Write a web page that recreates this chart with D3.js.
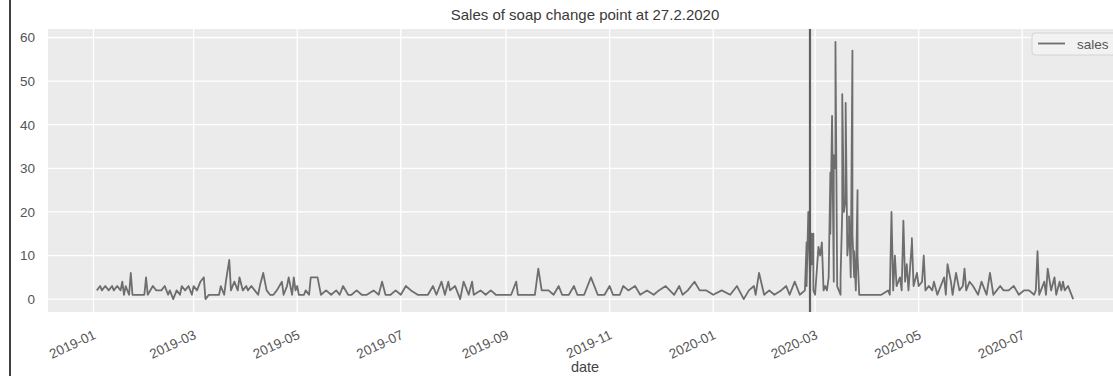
<!DOCTYPE html>
<html>
<head>
<meta charset="utf-8">
<script src="https://cdn.jsdelivr.net/npm/d3@7"></script>
<style>
  html, body { margin: 0; padding: 0; background: #fff; overflow: hidden; }
  svg { display: block; font-family: "Liberation Sans", Arial, sans-serif; }
</style>
</head>
<body>
<svg id="chart" width="1113" height="376"></svg>
<script>
// Daily soap sales records (several records can share a date)
const dates = [
  "2019-01-03","2019-01-05","2019-01-06","2019-01-08","2019-01-10","2019-01-12","2019-01-13","2019-01-15",
  "2019-01-17","2019-01-18","2019-01-19","2019-01-20","2019-01-22","2019-01-23","2019-01-24","2019-01-31",
  "2019-02-01","2019-02-02","2019-02-05","2019-02-07","2019-02-08","2019-02-10","2019-02-12","2019-02-14",
  "2019-02-15","2019-02-17","2019-02-19","2019-02-21","2019-02-22","2019-02-24","2019-02-26","2019-02-28",
  "2019-03-01","2019-03-03","2019-03-05","2019-03-07","2019-03-08","2019-03-10","2019-03-13","2019-03-16",
  "2019-03-17","2019-03-19","2019-03-20","2019-03-22","2019-03-23","2019-03-25","2019-03-27","2019-03-28",
  "2019-03-30","2019-04-01","2019-04-02","2019-04-04","2019-04-06","2019-04-08","2019-04-09","2019-04-11",
  "2019-04-13","2019-04-15","2019-04-17","2019-04-19","2019-04-22","2019-04-23","2019-04-25","2019-04-26",
  "2019-04-28","2019-04-29","2019-04-30","2019-05-01","2019-05-02","2019-05-05","2019-05-06","2019-05-08",
  "2019-05-09","2019-05-11","2019-05-13","2019-05-14","2019-05-15","2019-05-18","2019-05-21","2019-05-24",
  "2019-05-26","2019-05-28","2019-05-31","2019-06-02","2019-06-05","2019-06-08","2019-06-11","2019-06-15",
  "2019-06-18","2019-06-20","2019-06-22","2019-06-25","2019-06-28","2019-07-01","2019-07-04","2019-07-07",
  "2019-07-11","2019-07-17","2019-07-20","2019-07-22","2019-07-25","2019-07-27","2019-07-29","2019-07-30",
  "2019-08-02","2019-08-05","2019-08-07","2019-08-10","2019-08-12","2019-08-13","2019-08-17","2019-08-20",
  "2019-08-23","2019-08-26","2019-08-29","2019-09-04","2019-09-07","2019-09-08","2019-09-18","2019-09-20",
  "2019-09-22","2019-09-26","2019-09-29","2019-10-02","2019-10-04","2019-10-08","2019-10-11","2019-10-13",
  "2019-10-17","2019-10-21","2019-10-25","2019-10-29","2019-11-01","2019-11-03","2019-11-07","2019-11-09",
  "2019-11-12","2019-11-16","2019-11-19","2019-11-23","2019-11-27","2019-11-30","2019-12-04","2019-12-09",
  "2019-12-12","2019-12-14","2019-12-17","2019-12-21","2019-12-24","2019-12-28","2020-01-01","2020-01-06",
  "2020-01-11","2020-01-15","2020-01-19","2020-01-22","2020-01-25","2020-01-26","2020-01-28","2020-01-31",
  "2020-02-03","2020-02-06","2020-02-10","2020-02-13","2020-02-15","2020-02-18","2020-02-21","2020-02-24",
  "2020-02-25","2020-02-25","2020-02-26","2020-02-27","2020-02-28","2020-02-28","2020-02-29","2020-02-29",
  "2020-03-01","2020-03-03","2020-03-04","2020-03-05","2020-03-06","2020-03-07","2020-03-08","2020-03-09",
  "2020-03-10","2020-03-10","2020-03-11","2020-03-12","2020-03-12","2020-03-13","2020-03-13","2020-03-14",
  "2020-03-14","2020-03-16","2020-03-16","2020-03-17","2020-03-17","2020-03-18","2020-03-19","2020-03-19",
  "2020-03-20","2020-03-21","2020-03-21","2020-03-22","2020-03-23","2020-03-23","2020-03-24","2020-03-24",
  "2020-03-25","2020-03-26","2020-03-26","2020-03-27","2020-04-09","2020-04-13","2020-04-14","2020-04-15",
  "2020-04-16","2020-04-17","2020-04-18","2020-04-20","2020-04-21","2020-04-22","2020-04-23","2020-04-24",
  "2020-04-25","2020-04-27","2020-04-27","2020-04-28","2020-04-30","2020-05-01","2020-05-03","2020-05-04",
  "2020-05-05","2020-05-07","2020-05-09","2020-05-10","2020-05-12","2020-05-13","2020-05-16","2020-05-17",
  "2020-05-18","2020-05-20","2020-05-21","2020-05-23","2020-05-25","2020-05-27","2020-05-28","2020-05-29",
  "2020-05-31","2020-06-02","2020-06-05","2020-06-07","2020-06-09","2020-06-10","2020-06-12","2020-06-14",
  "2020-06-16","2020-06-18","2020-06-20","2020-06-23","2020-06-26","2020-06-29","2020-07-02","2020-07-05",
  "2020-07-08","2020-07-09","2020-07-10","2020-07-11","2020-07-12","2020-07-14","2020-07-15","2020-07-16",
  "2020-07-18","2020-07-20","2020-07-21","2020-07-23","2020-07-24","2020-07-25","2020-07-26","2020-07-28",
  "2020-07-31"
];

const sales = [
  2,3,2,3,2,3,2,3,
  2,4,1,3,1,6,1,1,
  5,1,3,2,2,2,3,1,
  2,0,2,1,3,2,3,1,
  3,2,4,5,0,1,1,1,
  3,1,4,9,2,4,2,5,
  2,3,2,3,2,1,3,6,
  2,1,1,2,4,1,3,5,
  1,5,2,3,1,1,2,1,
  5,5,5,3,1,2,1,2,
  1,3,1,1,2,1,1,2,
  1,4,1,1,2,1,3,2,
  1,1,3,1,4,1,4,2,
  3,0,4,1,4,1,2,1,
  2,1,1,1,4,1,1,7,
  2,2,1,3,1,1,3,1,
  1,5,1,1,3,1,1,3,
  2,3,1,2,1,2,3,1,
  3,1,2,4,2,2,1,2,
  1,3,0,2,3,1,6,1,
  2,1,2,3,1,4,1,2,
  13,3,20,5,15,8,15,2,
  1,12,10,13,2,3,2,5,
  29,15,42,4,33,30,59,4,
  3,1,5,20,47,20,23,45,
  10,15,19,5,57,15,5,11,
  2,25,10,1,1,2,1,20,
  2,10,3,5,2,18,4,8,
  2,13,14,3,6,3,4,10,
  2,3,2,4,1,2,5,1,
  8,4,1,6,2,3,7,2,
  4,3,1,4,2,1,6,1,
  2,3,2,2,3,1,2,2,
  1,2,11,1,2,4,1,7,
  2,5,1,4,2,4,2,3,
  0
];

const yTicks = [0, 10, 20, 30, 40, 50, 60];
const xTickLabels = ["2019-01","2019-03","2019-05","2019-07","2019-09","2019-11","2020-01","2020-03","2020-05","2020-07"];
const changePoint = "2020-02-27";
const seriesName = "sales";
const titleText = "Sales of soap change point at 27.2.2020";
const xAxisLabel = "date";

const parseDay = d3.timeParse("%Y-%m-%d");
const parseMonth = d3.timeParse("%Y-%m");
const records = dates.map((d, i) => ({ date: parseDay(d), value: sales[i] }));

const svg = d3.select("#chart");
const plot = { left: 48, right: 1122, top: 29, bottom: 312 };

// Axis limits padded by 5% of the data span on each side
const xExt = d3.extent(records, d => d.date);
const xPad = (xExt[1] - xExt[0]) * 0.05;
const x = d3.scaleTime()
  .domain([new Date(+xExt[0] - xPad), new Date(+xExt[1] + xPad)])
  .range([plot.left, plot.right]);

const yExt = d3.extent(records, d => d.value);
const yPad = (yExt[1] - yExt[0]) * 0.05;
const y = d3.scaleLinear()
  .domain([yExt[0] - yPad, yExt[1] + yPad])
  .range([plot.bottom, plot.top]);

// Page frame line on the left
svg.append("line")
  .attr("x1", 10).attr("x2", 10).attr("y1", 0).attr("y2", 376)
  .attr("stroke", "#111").attr("stroke-width", 1.6);

// Plot background
svg.append("rect")
  .attr("x", plot.left).attr("y", plot.top)
  .attr("width", plot.right - plot.left).attr("height", plot.bottom - plot.top)
  .attr("fill", "#ebebeb");

const xTickDates = xTickLabels.map(parseMonth);

// Grid lines
svg.append("g").selectAll("line").data(yTicks).join("line")
  .attr("x1", plot.left).attr("x2", plot.right)
  .attr("y1", d => y(d)).attr("y2", d => y(d))
  .attr("stroke", "#fff").attr("stroke-width", 1.3);
svg.append("g").selectAll("line").data(xTickDates).join("line")
  .attr("x1", d => x(d)).attr("x2", d => x(d))
  .attr("y1", plot.top).attr("y2", plot.bottom)
  .attr("stroke", "#fff").attr("stroke-width", 1.3);

// Sales line
const line = d3.line().x(d => x(d.date)).y(d => y(d.value));
svg.append("path")
  .datum(records)
  .attr("d", line)
  .attr("fill", "none")
  .attr("stroke", "#6e6e6e")
  .attr("stroke-width", 1.8)
  .attr("stroke-linejoin", "round");

// Change point marker
const cp = parseDay(changePoint);
svg.append("line")
  .attr("x1", x(cp)).attr("x2", x(cp))
  .attr("y1", plot.top).attr("y2", plot.bottom)
  .attr("stroke", "#5e5e5e").attr("stroke-width", 2.2);

// Y axis
const yAxis = d3.axisLeft(y).tickValues(yTicks).tickSize(0).tickPadding(13);
const gy = svg.append("g").attr("transform", `translate(${plot.left},0)`).call(yAxis);
gy.select(".domain").remove();
gy.selectAll("text").attr("font-size", 13.5).attr("fill", "#555")
  .attr("font-family", "Liberation Sans, Arial, sans-serif");

// X axis with slanted labels
const xAxis = d3.axisBottom(x).tickValues(xTickDates).tickFormat(d3.timeFormat("%Y-%m")).tickSize(0);
const gx = svg.append("g").attr("transform", `translate(0,${plot.bottom})`).call(xAxis);
gx.select(".domain").remove();
gx.selectAll(".tick text")
  .attr("font-size", 13.5).attr("fill", "#555")
  .attr("font-family", "Liberation Sans, Arial, sans-serif")
  .attr("text-anchor", "end")
  .attr("y", 0).attr("dy", 0)
  .attr("transform", "translate(3,26) rotate(-25)");

// Axis label
svg.append("text")
  .attr("x", (plot.left + plot.right) / 2).attr("y", 371.5)
  .attr("text-anchor", "middle").attr("font-size", 14.5).attr("fill", "#444")
  .text(xAxisLabel);

// Title
svg.append("text")
  .attr("x", (plot.left + plot.right) / 2).attr("y", 19.5)
  .attr("text-anchor", "middle").attr("font-size", 15).attr("fill", "#3a3a3a")
  .text(titleText);

// Legend
const lg = svg.append("g").attr("transform", "translate(1032,33)");
lg.append("rect")
  .attr("width", 100).attr("height", 22).attr("rx", 3)
  .attr("fill", "#f2f2f2").attr("stroke", "#d4d4d4").attr("stroke-width", 1);
lg.append("line")
  .attr("x1", 6).attr("x2", 33).attr("y1", 10.5).attr("y2", 10.5)
  .attr("stroke", "#6e6e6e").attr("stroke-width", 1.8);
lg.append("text")
  .attr("x", 45).attr("y", 15.5)
  .attr("font-size", 13.5).attr("fill", "#555")
  .text(seriesName);
</script>
</body>
</html>
